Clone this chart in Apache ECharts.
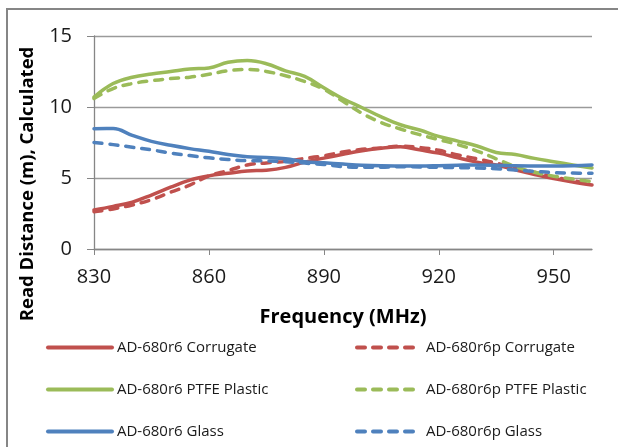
<!DOCTYPE html>
<html>
<head>
<meta charset="utf-8">
<script src="https://cdn.jsdelivr.net/npm/echarts@6/dist/echarts.min.js"></script>
<style>
html,body{margin:0;padding:0;background:#fff;}
#chart{width:618px;height:447px;}
</style>
</head>
<body>
<div id="chart"></div>
<script>
var freq = [830,835,840,845,850,855,860,865,870,875,880,885,890,895,900,905,910,915,920,925,930,935,940,945,950,955,960];
var r6Corrugate  = [2.75,3.0,3.3,3.8,4.35,4.85,5.15,5.33,5.5,5.55,5.75,6.12,6.4,6.67,6.92,7.1,7.2,6.98,6.75,6.42,6.12,5.92,5.58,5.25,4.97,4.72,4.5];
var r6pCorrugate = [2.63,2.82,3.1,3.47,4.0,4.5,5.15,5.52,5.92,6.06,6.17,6.38,6.57,6.83,7.02,7.12,7.25,7.15,6.95,6.62,6.35,6.05,5.68,5.4,5.07,4.82,4.57];
var r6PTFE  = [10.7,11.65,12.1,12.33,12.5,12.68,12.75,13.15,13.27,13.05,12.55,12.15,11.35,10.58,9.95,9.3,8.75,8.38,7.93,7.6,7.25,6.8,6.65,6.38,6.15,5.92,5.7];
var r6pPTFE = [10.6,11.3,11.65,11.85,12.0,12.1,12.3,12.55,12.65,12.5,12.2,11.8,11.25,10.4,9.55,8.9,8.45,8.05,7.7,7.35,6.9,6.35,5.8,5.4,5.13,4.93,4.74];
var r6Glass  = [8.47,8.48,8.0,7.58,7.3,7.07,6.88,6.65,6.5,6.45,6.36,6.15,6.07,5.98,5.9,5.86,5.85,5.85,5.87,5.9,5.92,5.9,5.86,5.85,5.85,5.87,5.92];
var r6pGlass = [7.5,7.35,7.17,6.98,6.75,6.58,6.42,6.3,6.22,6.2,6.15,6.05,5.95,5.8,5.76,5.76,5.8,5.78,5.75,5.73,5.7,5.65,5.56,5.47,5.38,5.35,5.33];
var xTicks = [830,860,890,920,950];
var seriesNames = ['AD-680r6 Corrugate','AD-680r6p Corrugate','AD-680r6 PTFE Plastic','AD-680r6p PTFE Plastic','AD-680r6 Glass','AD-680r6p Glass'];

var RED = '#C0504D', GREEN = '#9BBB59', BLUE = '#4F81BD';
function pairs(ys){ return freq.map(function(f,i){ return [f, ys[i]]; }); }
function mk(name, ys, color, dashed){
  return {
    name: name, type: 'line', data: pairs(ys), smooth: 0.4, symbol: 'none',
    lineStyle: { color: color, width: 3.5, type: dashed ? [8,8] : 'solid', cap: 'round', join: 'round' },
    itemStyle: { color: color }
  };
}
function leg(name, left, top){
  return {
    orient: 'horizontal', left: left, top: top,
    itemWidth: 64, itemHeight: 14, padding: 0,
    data: [name],
    textStyle: { fontFamily: 'Open Sans', fontSize: 15, color: '#1a1a1a' },
    lineStyle: { width: 4, cap: 'round' },
    itemStyle: { color: 'transparent', borderColor: 'transparent', borderWidth: 0, opacity: 0 },
    selectedMode: false
  };
}
var chart = echarts.init(document.getElementById('chart'), null, {renderer:'canvas'});
chart.setOption({
  animation: false,
  backgroundColor: '#fff',
  grid: { left: 94, right: 26, top: 36, bottom: 198 },
  xAxis: {
    type: 'value', min: 830, max: 960,
    name: 'Frequency (MHz)', nameLocation: 'middle', nameGap: 58,
    nameTextStyle: { fontFamily: 'Open Sans', fontWeight: 'bold', fontSize: 20, color: '#000' },
    axisLine: { lineStyle: { color: '#868686', width: 1.3 } },
    axisTick: { show: true, length: 6, lineStyle: { color: '#868686' }, customValues: xTicks },
    axisLabel: { fontFamily: 'Open Sans', fontSize: 20, color: '#1a1a1a', margin: 18, customValues: xTicks },
    splitLine: { show: false }
  },
  yAxis: {
    type: 'value', min: 0, max: 15, interval: 5,
    axisLine: { show: true, lineStyle: { color: '#868686', width: 1.3 } },
    axisTick: { show: true, length: 7, lineStyle: { color: '#868686' } },
    axisLabel: { fontFamily: 'Open Sans', fontSize: 20, color: '#1a1a1a', margin: 22 },
    splitLine: { show: true, lineStyle: { color: '#9a9a9a', width: 1.3 } }
  },
  legend: [
    leg(seriesNames[0], 46, 340), leg(seriesNames[1], 355, 340),
    leg(seriesNames[2], 46, 382), leg(seriesNames[3], 355, 382),
    leg(seriesNames[4], 46, 424), leg(seriesNames[5], 355, 424)
  ],
  graphic: [
    { type: 'rect', shape: { x: 7, y: 9, width: 700, height: 500 }, style: { fill: 'none', stroke: '#868686', lineWidth: 2 }, silent: true },
    { type: 'text', x: 28, y: 184, rotation: Math.PI/2,
      style: { text: 'Read Distance (m), Calculated', fontFamily: 'Open Sans', fontWeight: 'bold', fontSize: 18.5, fill: '#000', align: 'center', verticalAlign: 'middle' } }
  ],
  series: [
    mk(seriesNames[0], r6Corrugate, RED, false),
    mk(seriesNames[1], r6pCorrugate, RED, true),
    mk(seriesNames[2], r6PTFE, GREEN, false),
    mk(seriesNames[3], r6pPTFE, GREEN, true),
    mk(seriesNames[4], r6Glass, BLUE, false),
    mk(seriesNames[5], r6pGlass, BLUE, true)
  ]
});
</script>
</body>
</html>
